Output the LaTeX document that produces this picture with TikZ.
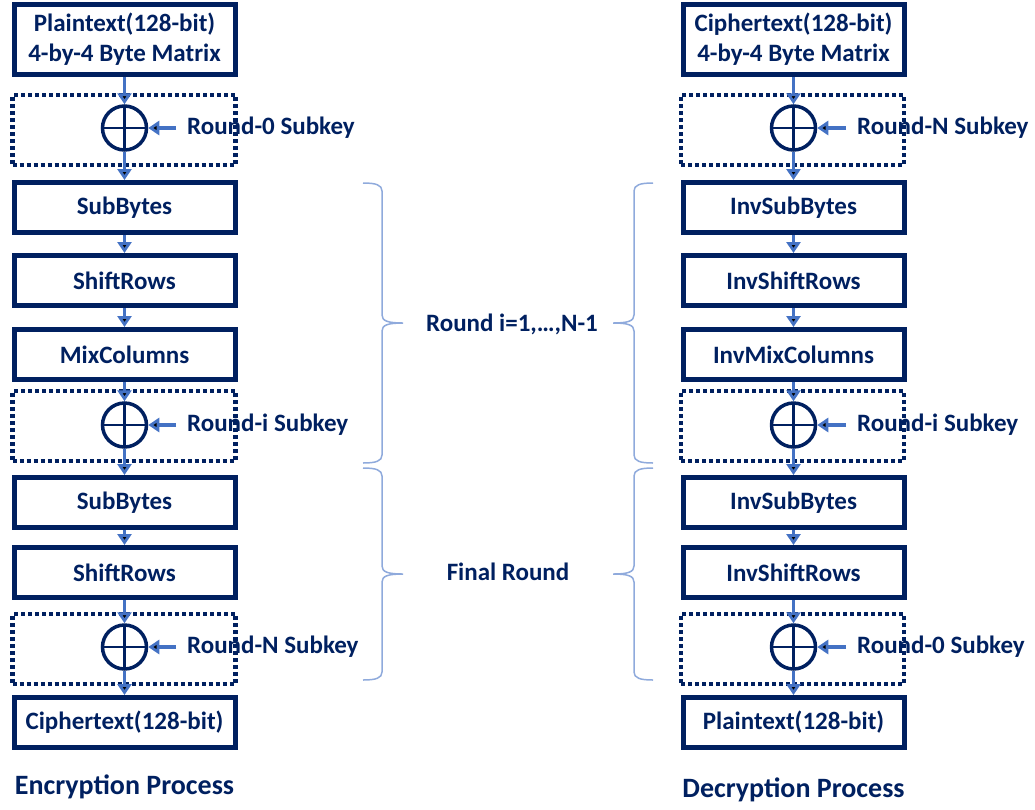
\documentclass[tikz,border=0pt]{standalone}
\usepackage{fontspec}
\setmainfont{Carlito}
\usetikzlibrary{arrows.meta}

\definecolor{navy}{HTML}{002060}
\definecolor{arrblue}{HTML}{4472C4}
\definecolor{brcblue}{HTML}{8FAADC}

\begin{document}
\begin{tikzpicture}[x=1pt, y=-1pt,
    every node/.style = {text=navy, font=\fontsize{25}{30}\selectfont\bfseries},
    blk/.style    = {draw=navy, line width=5pt, minimum width=221pt, minimum height=50pt,
                     inner sep=0pt, align=center},
    keybox/.style = {draw=navy, line width=4.5pt, dash pattern=on 4pt off 3pt,
                     minimum width=223pt, minimum height=70pt},
    xor/.style    = {draw=navy, circle, line width=3.5pt, minimum size=44pt, inner sep=0pt,
                     path picture={\draw[navy, line width=2.8pt]
                       (path picture bounding box.north) -- (path picture bounding box.south)
                       (path picture bounding box.west) -- (path picture bounding box.east);}},
    lbl/.style    = {anchor=west, inner xsep=11pt, inner ysep=0pt},
    title/.style  = {font=\fontsize{28}{34}\selectfont\bfseries},
    arr/.style    = {draw=arrblue, line width=3.2pt, -{Triangle[width=14pt,length=11pt]}},
    brc/.style    = {draw=brcblue, line width=1.5pt}]
        \useasboundingbox (0,0) rectangle (1035,809);

        % encryption
        \node[blk, minimum height=70pt] at (124.5, 39.5) (pt1) {Plaintext(128-bit)\\4-by-4 Byte Matrix};
        \node[keybox] at (124  , 130  ) (kb0) {};
        \node[xor]    at (124.5, 128  ) (x0)  {};
        \node[lbl]    at (176  , 128  ) (k0)  {Round-0 Subkey};
        \node[blk]    at (124.5, 207.5) (sb1) {SubBytes};
        \node[blk]    at (124.5, 280.5) (sr1) {ShiftRows};
        \node[blk]    at (124.5, 354.5) (mc1) {MixColumns};
        \node[keybox] at (124  , 426  ) (kbi) {};
        \node[xor]    at (124.5, 425  ) (xi)  {};
        \node[lbl]    at (176  , 425  ) (ki)  {Round-i Subkey};
        \node[blk]    at (124.5, 502.5) (sb2) {SubBytes};
        \node[blk]    at (124.5, 572.5) (sr2) {ShiftRows};
        \node[keybox] at (124  , 649  ) (kbN) {};
        \node[xor]    at (124.5, 647  ) (xN)  {};
        \node[lbl]    at (176  , 647  ) (kN)  {Round-N Subkey};
        \node[blk]    at (124.5, 722.5) (ct1) {Ciphertext(128-bit)};
        \node[title]  at (124.5, 787  ) (enc) {Encryption Process};

        \draw[arr] (pt1) edge (x0);
        \draw[arr] (k0)  edge (x0);
        \draw[arr] (x0)  edge (sb1);
        \draw[arr] (sb1) edge (sr1);
        \draw[arr] (sr1) edge (mc1);
        \draw[arr] (mc1) edge (xi);
        \draw[arr] (ki)  edge (xi);
        \draw[arr] (xi)  edge (sb2);
        \draw[arr] (sb2) edge (sr2);
        \draw[arr] (sr2) edge (xN);
        \draw[arr] (kN)  edge (xN);
        \draw[arr] (xN)  edge (ct1);

        % decryption
        \node[blk, minimum height=70pt] at (793.5, 39.5) (ct2) {Ciphertext(128-bit)\\4-by-4 Byte Matrix};
        \node[keybox] at (792.5, 130  ) (kdN) {};
        \node[xor]    at (793.5, 128  ) (yN)  {};
        \node[lbl]    at (846  , 128  ) (lN)  {Round-N Subkey};
        \node[blk]    at (793.5, 207.5) (isb1) {InvSubBytes};
        \node[blk]    at (793.5, 280.5) (isr1) {InvShiftRows};
        \node[blk]    at (793.5, 354.5) (imc1) {InvMixColumns};
        \node[keybox] at (792.5, 426  ) (kdi) {};
        \node[xor]    at (793.5, 425  ) (yi)  {};
        \node[lbl]    at (846  , 425  ) (li)  {Round-i Subkey};
        \node[blk]    at (793.5, 502.5) (isb2) {InvSubBytes};
        \node[blk]    at (793.5, 572.5) (isr2) {InvShiftRows};
        \node[keybox] at (792.5, 649  ) (kd0) {};
        \node[xor]    at (793.5, 647  ) (y0)  {};
        \node[lbl]    at (846  , 647  ) (l0)  {Round-0 Subkey};
        \node[blk]    at (793.5, 722.5) (pt2) {Plaintext(128-bit)};
        \node[title]  at (793.5, 790  ) (dec) {Decryption Process};

        \draw[arr] (ct2)  edge (yN);
        \draw[arr] (lN)   edge (yN);
        \draw[arr] (yN)   edge (isb1);
        \draw[arr] (isb1) edge (isr1);
        \draw[arr] (isr1) edge (imc1);
        \draw[arr] (imc1) edge (yi);
        \draw[arr] (li)   edge (yi);
        \draw[arr] (yi)   edge (isb2);
        \draw[arr] (isb2) edge (isr2);
        \draw[arr] (isr2) edge (y0);
        \draw[arr] (l0)   edge (y0);
        \draw[arr] (y0)   edge (pt2);

        % rounds
        \node at (512, 324) (rnd) {Round i=1,…,N-1};
        \node at (508, 572) (fin) {Final Round};

        \foreach \xe/\s in {363/1, 653/-1}
          \foreach \ya/\ym/\yb in {183/323/463, 468/574/680}
            \draw[brc] (\xe,\ya) .. controls ({\xe+13*\s},\ya) and ({\xe+19*\s},\ya+2) .. ({\xe+19*\s},\ya+8)
              -- ({\xe+19*\s},\ym-8) .. controls ({\xe+19*\s},\ym-2) and ({\xe+25*\s},\ym) .. ({\xe+40*\s},\ym)
              .. controls ({\xe+25*\s},\ym) and ({\xe+19*\s},\ym+2) .. ({\xe+19*\s},\ym+8)
              -- ({\xe+19*\s},\yb-8) .. controls ({\xe+19*\s},\yb-2) and ({\xe+13*\s},\yb) .. (\xe,\yb);
\end{tikzpicture}
\end{document}
